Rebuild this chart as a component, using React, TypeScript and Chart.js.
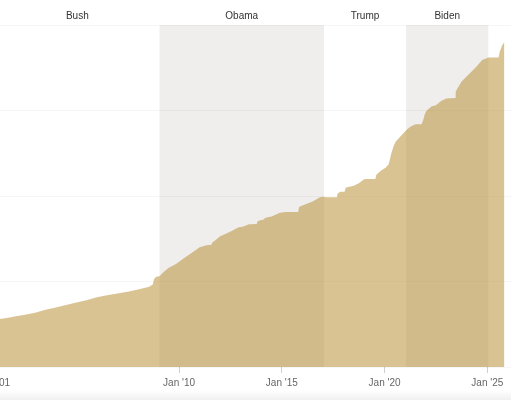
import React, { useEffect, useRef } from "react";
import { Chart, registerables } from "chart.js";

Chart.register(...registerables);

// US total public debt outstanding, trillions of dollars (decimal year)
const debtYears = [
  2001.0, 2001.3, 2001.75, 2002.0, 2002.5, 2003.0, 2003.5, 2004.0, 2004.5, 2005.0,
  2005.5, 2006.0, 2006.5, 2007.0, 2007.5, 2008.0, 2008.55, 2008.72, 2008.78, 2008.88,
  2009.05, 2009.25, 2009.5, 2009.85, 2010.0, 2010.25, 2010.5, 2010.8, 2011.0, 2011.33,
  2011.58, 2011.62, 2011.75, 2012.0, 2012.33, 2012.58, 2012.9, 2013.1, 2013.4, 2013.78,
  2013.82, 2014.0, 2014.1, 2014.2, 2014.5, 2014.9, 2015.2, 2015.8, 2015.84, 2016.0,
  2016.5, 2016.85, 2017.0, 2017.2, 2017.68, 2017.72, 2017.85, 2018.05, 2018.12, 2018.5,
  2018.75, 2019.0, 2019.17, 2019.55, 2019.6, 2019.85, 2020.05, 2020.2, 2020.33, 2020.45,
  2020.55, 2020.75, 2021.05, 2021.25, 2021.5, 2021.8, 2021.88, 2021.96, 2022.05, 2022.3,
  2022.5, 2022.75, 2023.0, 2023.43, 2023.46, 2023.55, 2023.75, 2024.0, 2024.25, 2024.5,
  2024.75, 2025.05, 2025.55, 2025.6, 2025.72, 2025.83,
];
const debtValues = [
  5.7, 5.6, 5.8, 5.9, 6.1, 6.35, 6.7, 6.95, 7.25, 7.55,
  7.8, 8.15, 8.4, 8.6, 8.8, 9.05, 9.4, 9.65, 10.25, 10.55,
  10.6, 11.1, 11.6, 12.05, 12.3, 12.75, 13.15, 13.65, 14.0, 14.25,
  14.3, 14.55, 14.8, 15.3, 15.65, 15.95, 16.35, 16.4, 16.7, 16.72,
  17.05, 17.2, 17.22, 17.45, 17.6, 18.05, 18.12, 18.13, 18.7, 18.9,
  19.35, 19.85, 19.9, 19.85, 19.85, 20.3, 20.5, 20.5, 21.0, 21.2,
  21.5, 21.95, 22.0, 22.0, 22.5, 23.0, 23.3, 23.7, 25.0, 25.9,
  26.4, 26.9, 27.7, 28.1, 28.4, 28.4, 28.9, 29.6, 30.0, 30.5,
  30.6, 31.1, 31.4, 31.45, 32.2, 32.6, 33.4, 34.0, 34.6, 35.2,
  35.9, 36.2, 36.2, 36.85, 37.6, 38.0,
];

const presidents = ["Bush", "Obama", "Trump", "Biden", ""];
const termStarts = [2001.05, 2009.05, 2017.05, 2021.05, 2025.05];
const termEnds = [2009.05, 2017.05, 2021.05, 2025.05, 2029.05];
const termShaded = [false, true, false, true, false];

const tickYears = [2001, 2010, 2015, 2020, 2025];
const tickLabels = ["Jan '01", "Jan '10", "Jan '15", "Jan '20", "Jan '25"];

const FONT = "'Liberation Sans', Arial, Helvetica, sans-serif";

const termsPlugin = {
  id: "terms",
  beforeDraw(chart: any) {
    const { ctx, chartArea, scales } = chart;
    const x = scales.x;
    ctx.save();
    ctx.fillStyle = "#efeeed";
    for (let i = 0; i < presidents.length; i++) {
      if (!termShaded[i]) continue;
      const a = Math.max(x.getPixelForValue(termStarts[i]), chartArea.left);
      const b = Math.min(x.getPixelForValue(termEnds[i]), chartArea.right);
      ctx.fillRect(a, chartArea.top, b - a, chartArea.bottom - chartArea.top);
    }
    ctx.restore();
  },
  afterDraw(chart: any) {
    const { ctx, scales } = chart;
    const x = scales.x;
    ctx.save();
    ctx.font = `10px ${FONT}`;
    ctx.fillStyle = "#333";
    ctx.textAlign = "center";
    ctx.textBaseline = "middle";
    for (let i = 0; i < presidents.length; i++) {
      if (!presidents[i]) continue;
      const c = (x.getPixelForValue(termStarts[i]) + x.getPixelForValue(termEnds[i])) / 2;
      ctx.fillText(presidents[i], c, 16);
    }
    ctx.restore();
  },
};

export default function App() {
  const ref = useRef<HTMLCanvasElement>(null);
  useEffect(() => {
    document.body.style.margin = "0";
    const chart = new Chart(ref.current!, {
      type: "line",
      data: {
        datasets: [
          {
            data: debtYears.map((x, i) => ({ x, y: debtValues[i] })),
            borderWidth: 0,
            pointRadius: 0,
            tension: 0,
            fill: "origin",
            backgroundColor: "rgba(186,146,57,0.55)",
            borderColor: "rgba(0,0,0,0)",
          },
        ],
      },
      options: {
        animation: false,
        responsive: true,
        maintainAspectRatio: false,
        layout: { padding: { top: 25, left: 0, right: 0, bottom: 0 } },
        plugins: { legend: { display: false }, tooltip: { enabled: false } },
        scales: {
          x: {
            type: "linear",
            min: 1999,
            max: 2026.153,
            afterBuildTicks: (s: any) => {
              s.ticks = tickYears.map((v) => ({ value: v }));
            },
            afterFit: (s: any) => {
              s.height = 33;
            },
            grid: {
              drawOnChartArea: false,
              drawTicks: true,
              tickLength: 6,
              tickColor: "#d0d0d0",
            },
            border: { display: false },
            ticks: {
              autoSkip: false,
              maxRotation: 0,
              padding: 4,
              color: "#666",
              font: { family: FONT, size: 10 },
              callback: (_v: any, i: number) => tickLabels[i],
            },
          },
          y: {
            min: 0,
            max: 40,
            afterBuildTicks: (s: any) => {
              s.ticks = [0, 10, 20, 30, 40].map((v) => ({ value: v }));
            },
            afterFit: (s: any) => {
              s.width = 0;
            },
            grid: { color: "rgba(0,0,0,0.035)", drawTicks: false },
            border: { display: false },
            ticks: { display: false },
          },
        },
      },
      plugins: [termsPlugin],
    });
    return () => chart.destroy();
  }, []);

  return (
    <div
      style={{
        position: "fixed",
        left: 0,
        top: 0,
        width: 511,
        height: 400,
        overflow: "hidden",
        background: "#fff",
      }}
    >
      <div style={{ position: "absolute", left: -47, top: 0, width: 558, height: 400 }}>
        <canvas ref={ref} />
      </div>
      <div
        style={{
          position: "absolute",
          left: 0,
          bottom: 0,
          width: 511,
          height: 10,
          background: "linear-gradient(to bottom, rgba(0,0,0,0), rgba(0,0,0,0.06))",
        }}
      />
    </div>
  );
}
